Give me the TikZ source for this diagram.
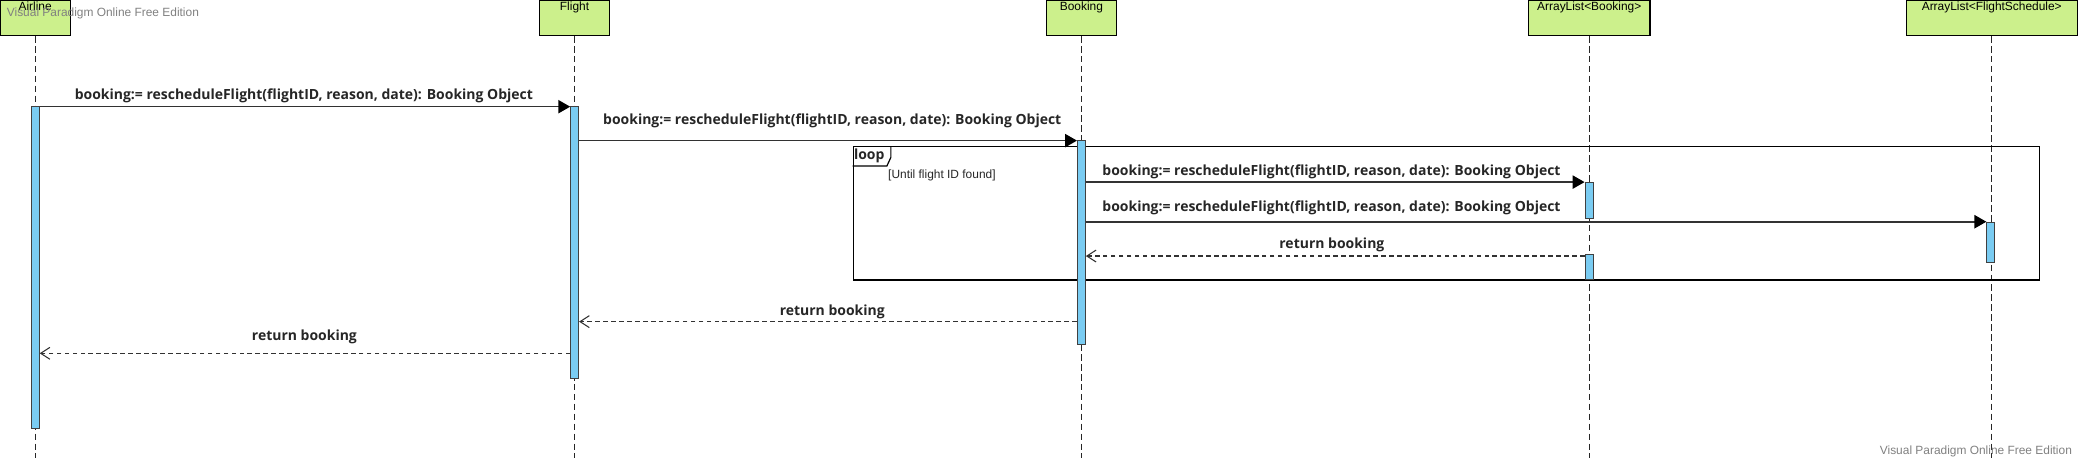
\documentclass[tikz,border=0pt]{standalone}
\usepackage{fontspec}
\setmainfont{Liberation Sans}
\newfontfamily\msgfont{Open Sans}
\usepackage{tikz}
\usetikzlibrary{arrows.meta,calc}

\definecolor{headgreen}{RGB}{204,240,140}
\definecolor{actblue}{RGB}{122,204,242}
\definecolor{msggray}{RGB}{50,50,50}
\definecolor{markgray}{RGB}{128,128,128}
\newcommand{\callmsg}{booking:= rescheduleFlight(flightID, reason, date): Booking Object}

\begin{document}
\begin{tikzpicture}[x=1pt,y=1pt,
        head/.style={draw=black, line width=0.9pt, fill=headgreen, minimum height=26.7pt, inner xsep=0pt, inner ysep=1.3pt, text height=6.5pt, text depth=17.6pt, font=\fontsize{9}{10}\selectfont},
        lifeline/.style={draw=black!85, line width=0.7pt, dash pattern=on 5pt off 2.5pt},
        act/.style={draw=black!75, line width=0.7pt, fill=actblue, minimum width=6pt, inner sep=0pt},
        frame/.style={draw=black, line width=0.9pt, inner sep=0pt},
        call/.style={draw=msggray, line width=1.2pt, -{Triangle[length=9pt,width=10pt,color=black]}},
        reply/.style={draw=msggray, line width=1.2pt, dash pattern=on 3.5pt off 2.5pt, -{Straight Barb[length=7pt,width=9pt,line width=0.8pt]}},
        msglabel/.style={font=\msgfont\bfseries\fontsize{10.55}{12}\selectfont, text=black!85, inner sep=0pt},
        guard/.style={font=\fontsize{9}{10}\selectfont, text=black!85, inner sep=0pt},
        watermark/.style={font=\fontsize{9}{10}\selectfont, text=markgray, inner sep=0pt}]
        \useasboundingbox (0,0) rectangle (1568,-345.6);
        \node[head, minimum width=53pt] (airline) at (26.5,-13.35) {Airline};
        \node[head, minimum width=53pt] (flight) at (433.5,-13.35) {Flight};
        \node[head, minimum width=53pt] (booking) at (816,-13.35) {Booking};
        \node[head, minimum width=91.6pt] (bookinglist) at (1199.2,-13.35) {ArrayList<Booking>};
        \node[head, minimum width=129pt] (schedulelist) at (1502.9,-13.35) {ArrayList<FlightSchedule>};
        \coordinate (bottom) at (0,-345.6);
        \foreach \p in {airline,flight,booking,bookinglist,schedulelist}
            \draw[lifeline] (\p.south) -- (\p.south |- bottom);
        \node[frame, minimum width=895.3pt, minimum height=100.6pt, anchor=north west] (loop) at (643.4,-110.2) {};
        \draw[frame] ([yshift=-15.1pt]loop.north west) -- ++(25.8,0) -- ++(3,6.5) -- ++(0,8.6);
        \node[msglabel, anchor=west] (looplabel) at ([shift={(0.8pt,-7.2pt)}]loop.north west) {loop};
        \node[guard, anchor=west] (guardlabel) at ([shift={(26.6pt,-22.4pt)}]loop.north west) {[Until flight ID found]};
        \node[act, minimum height=242.7pt] (airlineact) at (26.6,-201.85) {};
        \node[act, minimum height=205pt] (flightact) at (433.6,-183) {};
        \node[act, minimum height=153.8pt] (bookingact) at (816,-182.9) {};
        \node[act, minimum height=27.3pt] (bookinglistact) at (1199,-151.15) {};
        \node[act, minimum height=18.6pt] (bookinglistret) at (1199,-201.4) {};
        \node[act, minimum height=30.7pt] (schedulelistact) at (1502.2,-182.85) {};
        \coordinate (m1) at (0,-80.5);
        \coordinate (m2) at (0,-106.1);
        \coordinate (m3) at (0,-137.4);
        \coordinate (m4) at (0,-167.3);
        \coordinate (m5) at (0,-193.2);
        \coordinate (m6) at (0,-242.7);
        \coordinate (m7) at (0,-266.6);
        \draw[call] (airlineact.east |- m1) -- (flightact.west |- m1);
        \draw[call] (flightact.east |- m2) -- (bookingact.west |- m2);
        \draw[call] (bookingact.east |- m3) -- (bookinglistact.west |- m3);
        \draw[call] (bookingact.east |- m4) -- (schedulelistact.west |- m4);
        \draw[reply] (bookinglistret.west |- m5) -- (bookingact.east |- m5);
        \draw[reply] (bookingact.west |- m6) -- (flightact.east |- m6);
        \draw[reply] (flightact.west |- m7) -- (airlineact.east |- m7);
        \node[msglabel] (m1label) at (229.3,-72.4) {\callmsg};
        \node[msglabel] (m2label) at (628,-91) {\callmsg};
        \node[msglabel] (m3label) at (1004.7,-130) {\callmsg};
        \node[msglabel] (m4label) at (1004.7,-157) {\callmsg};
        \node[msglabel] (m5label) at (1005,-184.4) {return booking};
        \node[msglabel] (m6label) at (628,-235.4) {return booking};
        \node[msglabel] (m7label) at (229.7,-254.5) {return booking};
        \node[watermark, anchor=base west] (wmtop) at (5,-12.1) {Visual Paradigm Online Free Edition};
        \node[watermark, anchor=base east] (wmbottom) at (1563.6,-342.6) {Visual Paradigm Online Free Edition};
\end{tikzpicture}
\end{document}
